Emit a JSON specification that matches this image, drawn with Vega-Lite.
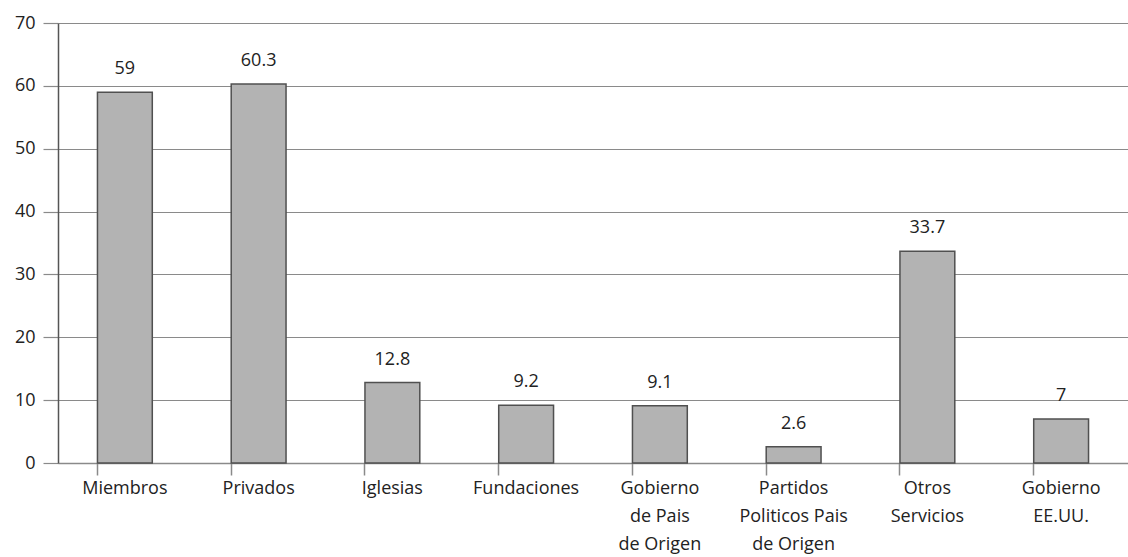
{
  "$schema": "https://vega.github.io/schema/vega-lite/v6.json",
  "width": 1070,
  "height": 440,
  "autosize": {"type": "none"},
  "padding": {"left": 58, "top": 23, "right": 0, "bottom": 94},
  "background": "white",
  "data": {
    "values": [
      {"cat": "Miembros", "value": 59, "txt": "59"},
      {"cat": "Privados", "value": 60.3, "txt": "60.3"},
      {"cat": "Iglesias", "value": 12.8, "txt": "12.8"},
      {"cat": "Fundaciones", "value": 9.2, "txt": "9.2"},
      {"cat": "Gobierno|de Pais|de Origen", "value": 9.1, "txt": "9.1"},
      {"cat": "Partidos|Politicos Pais|de Origen", "value": 2.6, "txt": "2.6"},
      {"cat": "Otros|Servicios", "value": 33.7, "txt": "33.7"},
      {"cat": "Gobierno|EE.UU.", "value": 7, "txt": "7"}
    ]
  },
  "encoding": {
    "x": {
      "field": "cat",
      "type": "nominal",
      "sort": null,
      "scale": {"paddingInner": 0.59, "paddingOuter": 0.295}
    },
    "y": {
      "field": "value",
      "type": "quantitative",
      "scale": {"domain": [0, 70], "nice": false},
      "axis": {
        "title": null,
        "values": [0, 10, 20, 30, 40, 50, 60, 70],
        "grid": true,
        "gridColor": "#8a8a8a",
        "gridWidth": 1.2,
        "domainColor": "#555",
        "domainWidth": 1.5,
        "tickColor": "#8a8a8a",
        "tickSize": 15,
        "tickWidth": 1.2,
        "labelPadding": 8,
        "labelFont": "Open Sans",
        "labelFontSize": 18,
        "labelColor": "#222"
      }
    }
  },
  "layer": [
    {
      "mark": {"type": "bar", "fill": "#b3b3b3", "stroke": "#505050", "strokeWidth": 1.5},
      "encoding": {
        "x": {
          "field": "cat",
          "type": "nominal",
          "sort": null,
          "axis": {
            "title": null,
            "orient": "bottom",
            "labelExpr": "split(datum.value, '|')",
            "labelAngle": 0,
            "labelFont": "Open Sans",
            "labelFontSize": 18,
            "labelLineHeight": 28,
            "labelColor": "#222",
            "labelPadding": 16,
            "ticks": false,
            "domainColor": "#8a8a8a",
            "domainWidth": 1.5,
            "labelBound": false,
            "labelOverlap": false
          }
        }
      }
    },
    {
      "mark": {"type": "text", "dy": -23, "baseline": "middle", "font": "Open Sans", "fontSize": 18, "color": "#222"},
      "encoding": {
        "text": {"field": "txt"},
        "x": {
          "field": "cat",
          "type": "nominal",
          "sort": null,
          "axis": {
            "title": null,
            "orient": "bottom",
            "bandPosition": 0,
            "labels": false,
            "domain": false,
            "ticks": true,
            "tickColor": "#8a8a8a",
            "tickWidth": 1.5,
            "tickSize": 12
          }
        }
      }
    }
  ],
  "resolve": {"axis": {"x": "independent"}},
  "config": {"view": {"stroke": null}}
}
